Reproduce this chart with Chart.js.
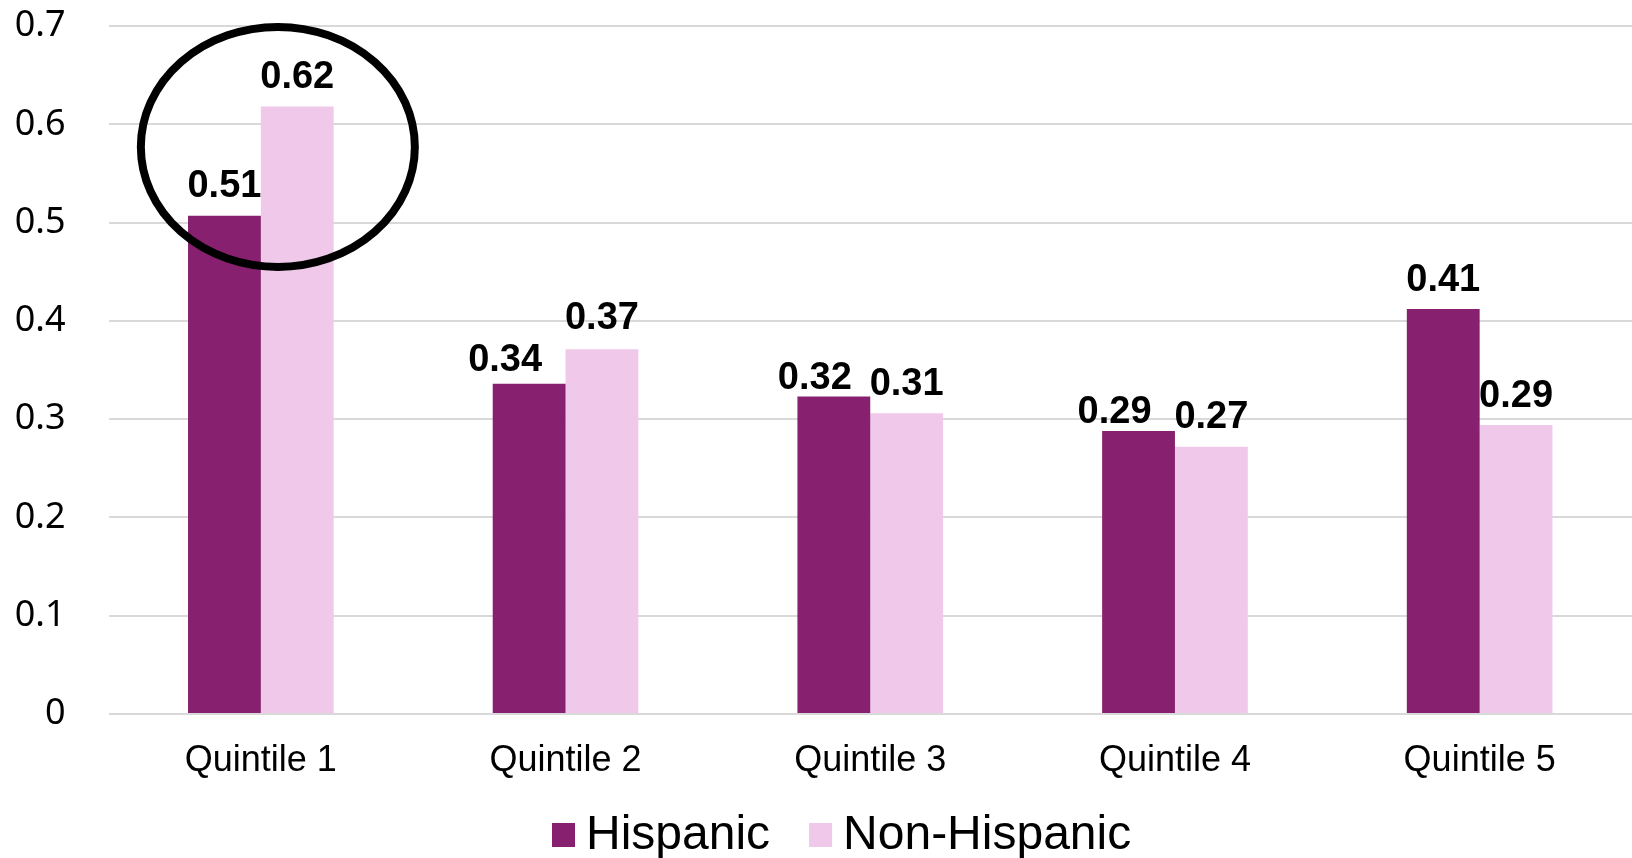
<!DOCTYPE html>
<html>
<head>
<meta charset="utf-8">
<script src="https://cdn.jsdelivr.net/npm/chart.js@4/dist/chart.umd.min.js"></script>
<style>
  html, body { margin: 0; padding: 0; background: #fff; }
  #wrap { width: 1632px; height: 858px; }
</style>
</head>
<body>
<div id="wrap"><canvas id="myChart" width="1632" height="858"></canvas></div>
<script>
// datos
const categorias = ["Quintile 1", "Quintile 2", "Quintile 3", "Quintile 4", "Quintile 5"];
const hispanic = [0.507, 0.336, 0.323, 0.288, 0.412];
const nonHispanic = [0.618, 0.371, 0.306, 0.272, 0.294];
const yTicks = [0, 0.1, 0.2, 0.3, 0.4, 0.5, 0.6, 0.7];

// pequenos desplazamientos de las etiquetas (como en el original)
const nudgeHisp = [[0, 0], [-24, 6], [-19, 11], [-24, 11], [0, 0]];
const nudgeNon = [[0, 0], [0, -2], [0, 0], [0, 0], [0, 0]];

const colorHisp = "#86206f";
const colorNon = "#f0c8e9";

// etiquetas encima de las barras + circulo
const etiquetas = {
	id: "etiquetas",
	afterDatasetsDraw(chart) {
		const ctx = chart.ctx;
		ctx.save();
		ctx.fillStyle = "#000";
		ctx.font = "bold 38px 'Liberation Sans', Arial, sans-serif";
		ctx.textAlign = "center";
		ctx.textBaseline = "middle";
		[nudgeHisp, nudgeNon].forEach((nudge, i) => {
			const meta = chart.getDatasetMeta(i);
			meta.data.forEach((bar, j) => {
				const v = chart.data.datasets[i].data[j];
				ctx.fillText(v.toFixed(2), bar.x + nudge[j][0], bar.y - 29 + nudge[j][1]);
			});
		});

		// circulo alrededor del quintil 1
		const x = chart.scales.x;
		const y = chart.scales.y;
		ctx.beginPath();
		ctx.ellipse(x.getPixelForValue(0) + 17, y.getPixelForValue(0.577), 137, 120, 0, 0, Math.PI * 2);
		ctx.lineWidth = 8;
		ctx.strokeStyle = "#000";
		ctx.stroke();
		ctx.restore();
	}
};

// leyenda dibujada a mano (cuadrado pegado al texto)
const leyenda = {
	id: "leyenda",
	afterDraw(chart) {
		const ctx = chart.ctx;
		ctx.save();
		ctx.font = "48px 'Liberation Sans', Arial, sans-serif";
		ctx.textBaseline = "middle";
		ctx.textAlign = "left";
		let xPos = 552;
		const yMid = 835;
		chart.data.datasets.forEach(ds => {
			ctx.fillStyle = ds.backgroundColor;
			ctx.fillRect(xPos, yMid - 12, 23, 24);
			ctx.fillStyle = "#000";
			ctx.fillText(ds.label, xPos + 34, yMid + 1);
			xPos += 34 + ctx.measureText(ds.label).width + 39;
		});
		ctx.restore();
	}
};

const data = {
	labels: categorias,
	datasets: [{
		label: "Hispanic",
		data: hispanic,
		backgroundColor: colorHisp,
		borderWidth: 0
	}, {
		label: "Non-Hispanic",
		data: nonHispanic,
		backgroundColor: colorNon,
		borderWidth: 0
	}]
};

const config = {
	type: "bar",
	data: data,
	options: {
		responsive: false,
		animation: false,
		devicePixelRatio: 1,
		categoryPercentage: 0.478,
		barPercentage: 1,
		layout: { padding: { top: 26, right: 0, left: 0, bottom: 78 } },
		plugins: {
			tooltip: { enabled: false },
			legend: { display: false }
		},
		scales: {
			x: {
				grid: { display: false },
				border: { display: false },
				ticks: {
					color: "#000",
					font: { family: "'Liberation Sans', Arial, sans-serif", size: 36 },
					padding: 17,
					maxRotation: 0
				},
				afterFit(scale) { scale.height = 66; }
			},
			y: {
				min: 0,
				max: 0.7,
				afterBuildTicks(scale) { scale.ticks = yTicks.map(v => ({ value: v })); },
				// marcas invisibles para separar los numeros del area
				grid: { color: "#d9d9d9", lineWidth: 2, drawTicks: true, tickLength: 43, tickColor: "rgba(0,0,0,0)" },
				border: { display: false },
				ticks: {
					color: "#000",
					font: { family: "'Noto Sans', sans-serif", size: 36 },
					padding: 0,
					callback: v => String(Math.round(v * 10) / 10)
				},
				afterFit(scale) { scale.width = 108.5; }
			}
		}
	},
	plugins: [etiquetas, leyenda]
};

const myChart = new Chart(document.getElementById("myChart"), config);
</script>
</body>
</html>
